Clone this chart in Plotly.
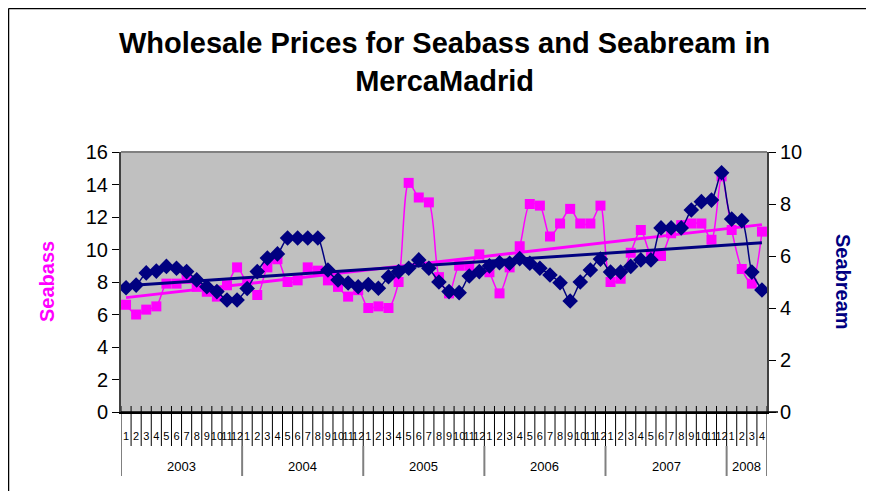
import numpy as np
import plotly.graph_objects as go

years = ["2003", "2004", "2005", "2006", "2007", "2008"]
months_per_year = [12, 12, 12, 12, 12, 4]

seabass = [6.6, 6.0, 6.3, 6.5, 7.9, 7.9, 8.2, 7.7, 7.4, 7.1, 7.8, 8.9,
           7.9, 7.2, 8.9, 9.4, 8.0, 8.1, 8.9, 8.7, 8.1, 7.7, 7.1, 7.5,
           6.4, 6.5, 6.4, 8.0, 14.1, 13.2, 12.9, 8.3, 7.3, 9.0, 9.0, 9.7,
           8.6, 7.3, 8.9, 10.2, 12.8, 12.7, 10.8, 11.6, 12.5, 11.6, 11.6, 12.7,
           8.0, 8.2, 9.8, 11.2, 9.7, 9.6, 11.0, 11.5, 11.6, 11.6, 10.6, 14.5,
           11.2, 8.8, 7.9, 11.1]

seabream = [4.78, 4.88, 5.35, 5.42, 5.6, 5.53, 5.4, 5.08, 4.82, 4.63, 4.31, 4.31,
            4.75, 5.4, 5.92, 6.08, 6.69, 6.69, 6.69, 6.69, 5.46, 5.08, 4.96, 4.82,
            4.9, 4.76, 5.2, 5.4, 5.53, 5.85, 5.53, 5.0, 4.63, 4.59, 5.23, 5.4,
            5.62, 5.74, 5.72, 5.9, 5.72, 5.53, 5.27, 4.97, 4.27, 5.0, 5.46, 5.88,
            5.38, 5.38, 5.6, 5.85, 5.85, 7.08, 7.08, 7.08, 7.77, 8.09, 8.15, 9.2,
            7.42, 7.36, 5.38, 4.69]

month_labels = [str(m) for n in months_per_year for m in range(1, n + 1)]
x = list(range(len(seabass)))

# linear trend lines
pb = np.polyfit(x, seabass, 1)
pr = np.polyfit(x, seabream, 1)
tb = [pb[0] * xi + pb[1] for xi in x]
tr = [pr[0] * xi + pr[1] for xi in x]

PINK = "#FF00FF"
NAVY = "#000080"
FONT = "Liberation Sans, Arial, sans-serif"

OFF = 8  # page body margin
W, H = 874 - OFF, 491 - OFF
L, R, T, B = 121 - OFF, 767 - OFF, 152 - OFF, 412 - OFF
ph = B - T
pw = R - L


def px(sx):
    return (sx - OFF - L) / pw


def py(sy):
    return (B - (sy - OFF)) / ph


fig = go.Figure()
fig.add_trace(go.Scatter(x=x, y=seabass, mode="lines+markers",
                         line=dict(color=PINK, width=1.5, shape="spline", smoothing=0.8),
                         marker=dict(symbol="square", size=10, color=PINK),
                         name="Seabass", yaxis="y"))
fig.add_trace(go.Scatter(x=x, y=tb, mode="lines", line=dict(color=PINK, width=3),
                         yaxis="y", showlegend=False))
fig.add_trace(go.Scatter(x=x, y=seabream, mode="lines+markers",
                         line=dict(color=NAVY, width=1.5, shape="spline", smoothing=0.8),
                         marker=dict(symbol="diamond", size=12, color=NAVY),
                         name="Seabream", yaxis="y2"))
fig.add_trace(go.Scatter(x=x, y=tr, mode="lines", line=dict(color=NAVY, width=3),
                         yaxis="y2", showlegend=False))

shapes = []
# month separators
for b in range(len(x) + 1):
    shapes.append(dict(type="line", xref="x", yref="paper", x0=b - 0.5, x1=b - 0.5,
                       y0=6 / ph, y1=-34 / ph, line=dict(color="black", width=1)))
# year separators and labels
annotations = []
start = 0
bounds = [0]
for yr, n in zip(years, months_per_year):
    annotations.append(dict(xref="x", yref="paper", x=start + n / 2 - 0.5, y=-54 / ph,
                            text=yr, showarrow=False, yanchor="middle",
                            font=dict(family=FONT, size=13, color="black")))
    start += n
    bounds.append(start)
for b in bounds:
    shapes.append(dict(type="line", xref="x", yref="paper", x0=b - 0.5, x1=b - 0.5,
                       y0=-34 / ph, y1=-64 / ph, line=dict(color="#808080", width=2)))
# top border of plot area
shapes.append(dict(type="line", xref="paper", yref="paper", x0=0, x1=1, y0=1, y1=1,
                   line=dict(color="#808080", width=2)))
# x axis line extends a bit past the right axis
shapes.append(dict(type="line", xref="paper", yref="paper", x0=0, x1=px(778), y0=0, y1=0,
                   line=dict(color="black", width=1.5)))
# outer frame (top and left)
fx = px(8.5)
fy = (B - 0.5) / ph
shapes.append(dict(type="line", xref="paper", yref="paper", x0=fx, x1=(W + 10 - L) / pw,
                   y0=fy, y1=fy, line=dict(color="black", width=1.5)))
shapes.append(dict(type="line", xref="paper", yref="paper", x0=fx, x1=fx,
                   y0=fy, y1=(B - H - 10) / ph, line=dict(color="black", width=1.5)))

annotations.append(dict(xref="paper", yref="paper", x=0.5, y=py(62),
                        text="<b>Wholesale Prices for Seabass and Seabream in<br>MercaMadrid</b>",
                        showarrow=False, yanchor="middle",
                        font=dict(family=FONT, size=29, color="black")))
annotations.append(dict(xref="paper", yref="paper", x=px(34), y=py(282),
                        text="<b>Seabass</b>", textangle=-90, showarrow=False,
                        font=dict(family=FONT, size=20, color=PINK)))
annotations.append(dict(xref="paper", yref="paper", x=px(856), y=py(282),
                        text="<b>Seabream</b>", textangle=90, showarrow=False,
                        font=dict(family=FONT, size=20, color=NAVY)))

fig.update_layout(
    width=W, height=H,
    margin=dict(l=L, r=W - R, t=T, b=H - B, pad=0),
    paper_bgcolor="white", plot_bgcolor="#C0C0C0",
    showlegend=False,
    font=dict(family=FONT, color="black"),
    xaxis=dict(range=[-0.5, len(x) - 0.5], tickvals=x, ticktext=month_labels,
               tickangle=0, ticks="", ticklabelstandoff=13,
               tickfont=dict(family=FONT, size=11), showgrid=False, zeroline=False,
               showline=True, linecolor="black", linewidth=1.5, fixedrange=True),
    yaxis=dict(range=[0, 16], dtick=2, ticks="outside", ticklen=7, tickcolor="black",
               tickfont=dict(family=FONT, size=20), showgrid=False, zeroline=False,
               showline=True, linecolor="#404040", linewidth=2),
    yaxis2=dict(range=[0, 10], dtick=2, overlaying="y", side="right", ticks="outside",
                ticklen=7, tickcolor="black", tickfont=dict(family=FONT, size=20),
                showgrid=False, zeroline=False, showline=True, linecolor="#404040",
                linewidth=2),
    shapes=shapes, annotations=annotations,
)

fig.write_html("out.html")
